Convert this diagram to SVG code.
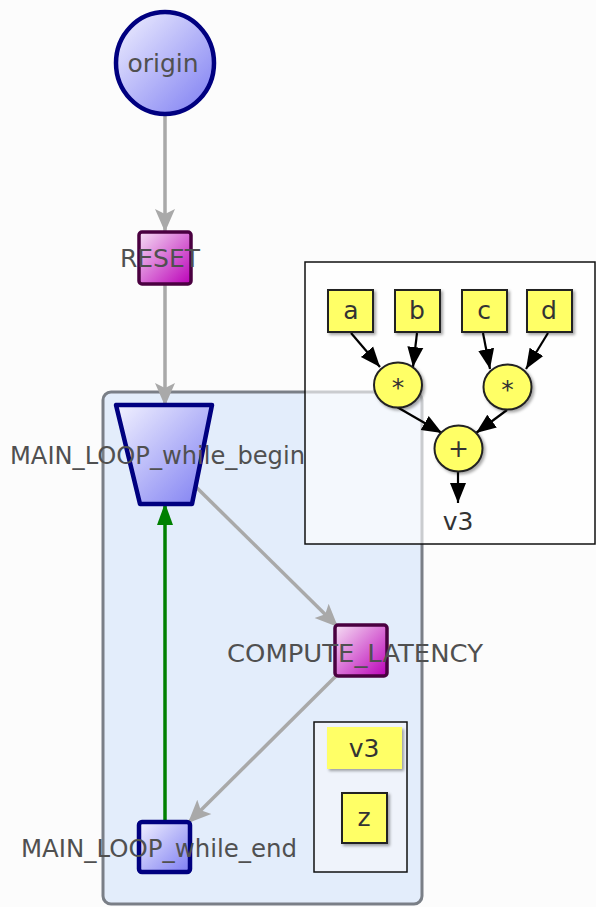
<svg xmlns="http://www.w3.org/2000/svg" width="596" height="907" viewBox="0 0 596 907">
<defs>
<style>
.lbl{font-family:"DejaVu Sans","Liberation Sans",sans-serif;font-size:25px;fill:#505050;text-anchor:middle}
.ylbl{font-family:"DejaVu Sans","Liberation Sans",sans-serif;font-size:25px;fill:#333;text-anchor:middle}
.gray{stroke:#a9a9a9;stroke-width:3.5;fill:none}
.blk{stroke:#000;stroke-width:2.2;fill:none}
.pink{fill:url(#gPink);stroke:#4a0040;stroke-width:3.5}
.lav{fill:url(#gLav);stroke:#000080;stroke-width:4.5}
.yel{fill:#ffff66;stroke:#222;stroke-width:2;filter:url(#sh)}
</style>
<linearGradient id="gPink" x1="0" y1="0" x2="1" y2="1">
<stop offset="0" stop-color="#f6e0f4"/><stop offset="1" stop-color="#bb00b8"/>
</linearGradient>
<linearGradient id="gLav" x1="0" y1="0" x2="1" y2="1">
<stop offset="0" stop-color="#f2f2ff"/><stop offset="1" stop-color="#7c7cf2"/>
</linearGradient>
<filter id="sh" x="-20%" y="-20%" width="150%" height="150%">
<feDropShadow dx="2" dy="2" stdDeviation="1.5" flood-color="#000" flood-opacity="0.35"/>
</filter>
<marker id="aGray" markerUnits="userSpaceOnUse" markerWidth="26" markerHeight="26" viewBox="0 0 26 26" refX="23" refY="13" orient="auto">
<path d="M0,3 L23,13 L0,23 L5,13 Z" fill="#a9a9a9"/>
</marker>
<marker id="aGreen" markerUnits="userSpaceOnUse" markerWidth="26" markerHeight="26" viewBox="0 0 26 26" refX="22" refY="13" orient="auto">
<path d="M0,5 L22,13 L0,21 Z" fill="#008000"/>
</marker>
<marker id="aBlk" markerUnits="userSpaceOnUse" markerWidth="22" markerHeight="22" viewBox="0 0 22 22" refX="20" refY="11" orient="auto">
<path d="M0,3 L20,11 L0,19 Z" fill="#000"/>
</marker>
</defs>
<rect x="0" y="0" width="596" height="907" fill="#fcfcfc"/>

<g id="loop-container">
<rect x="103" y="392" width="319" height="512" rx="8" fill="#e3edfb" stroke="#7a7f87" stroke-width="3"/>
</g>

<g id="dataflow-panel">
<rect x="305" y="262" width="290" height="282" fill="#ffffff" fill-opacity="0.6" stroke="#111" stroke-width="1.5"/>
</g>

<g id="connectors">
<line class="gray" x1="165" y1="85" x2="165" y2="232" marker-end="url(#aGray)"/>
<line class="gray" x1="165" y1="285" x2="165" y2="406" marker-end="url(#aGray)"/>
<line class="gray" x1="192" y1="483" x2="338" y2="627" marker-end="url(#aGray)"/>
<line class="gray" x1="336" y1="676" x2="188" y2="823" marker-end="url(#aGray)"/>
<line x1="165" y1="823" x2="165" y2="503" stroke="#008000" stroke-width="3.5" marker-end="url(#aGreen)"/>
<line class="blk" x1="351" y1="333" x2="380" y2="367" marker-end="url(#aBlk)"/>
<line class="blk" x1="417" y1="333" x2="413" y2="367" marker-end="url(#aBlk)"/>
<line class="blk" x1="483" y1="333" x2="490" y2="369" marker-end="url(#aBlk)"/>
<line class="blk" x1="548" y1="333" x2="526" y2="369" marker-end="url(#aBlk)"/>
<line class="blk" x1="397" y1="407" x2="442" y2="433" marker-end="url(#aBlk)"/>
<line class="blk" x1="507" y1="410" x2="476" y2="433" marker-end="url(#aBlk)"/>
<line class="blk" x1="458" y1="472" x2="458" y2="503" marker-end="url(#aBlk)"/>
<line class="blk" x1="364" y1="769" x2="364" y2="794" marker-end="url(#aBlk)"/>
</g>

<g id="origin">
<ellipse cx="165" cy="63" rx="49" ry="51" class="lav" stroke-width="4"/>
<text class="lbl" x="163" y="72" font-size="22">origin</text>
</g>

<g id="RESET">
<rect x="139" y="232" width="52" height="52" rx="3" class="pink"/>
<text class="lbl" x="160" y="267" textLength="80" lengthAdjust="spacingAndGlyphs">RESET</text>
</g>

<g id="MAIN_LOOP_while_begin">
<polygon points="116,405 212,405 192,504 140,504" class="lav" stroke-linejoin="round"/>
<text class="lbl" x="157.5" y="464" textLength="295" lengthAdjust="spacingAndGlyphs">MAIN_LOOP_while_begin</text>
</g>

<g id="COMPUTE_LATENCY">
<rect x="335" y="625" width="52" height="51" rx="3" class="pink"/>
<text class="lbl" x="355" y="662" textLength="256" lengthAdjust="spacingAndGlyphs">COMPUTE_LATENCY</text>
</g>

<g id="MAIN_LOOP_while_end">
<rect x="139" y="822" width="51" height="50" rx="3" class="lav"/>
<text class="lbl" x="159" y="857" textLength="276" lengthAdjust="spacingAndGlyphs">MAIN_LOOP_while_end</text>
</g>

<g id="node-a"><rect x="328" y="290" width="45" height="42" class="yel"/><text class="ylbl" x="351" y="319">a</text></g>
<g id="node-b"><rect x="395" y="290" width="45" height="42" class="yel"/><text class="ylbl" x="417" y="319">b</text></g>
<g id="node-c"><rect x="462" y="290" width="45" height="42" class="yel"/><text class="ylbl" x="484" y="319">c</text></g>
<g id="node-d"><rect x="527" y="290" width="45" height="42" class="yel"/><text class="ylbl" x="549" y="319">d</text></g>
<g id="mul1"><ellipse cx="398" cy="385" rx="24" ry="22.5" class="yel"/><text class="ylbl" x="398" y="396">*</text></g>
<g id="mul2"><ellipse cx="507.5" cy="387" rx="24" ry="22.5" class="yel"/><text class="ylbl" x="507.5" y="398">*</text></g>
<g id="add"><ellipse cx="458.5" cy="448.5" rx="24" ry="23" class="yel"/><text class="ylbl" x="458.5" y="457">+</text></g>
<g id="v3-out"><text class="ylbl" x="458" y="530">v3</text></g>

<g id="assign-box">
<rect x="314" y="722" width="93" height="150" fill="#eff3fb" stroke="#111" stroke-width="1.5"/>
</g>
<g id="node-v3"><rect x="327" y="727" width="75" height="42" fill="#ffff66" filter="url(#sh)"/><text class="ylbl" x="364" y="757">v3</text></g>
<g id="node-z"><rect x="342" y="793" width="45" height="50" class="yel"/><text class="ylbl" x="364" y="826">z</text></g>
</svg>
